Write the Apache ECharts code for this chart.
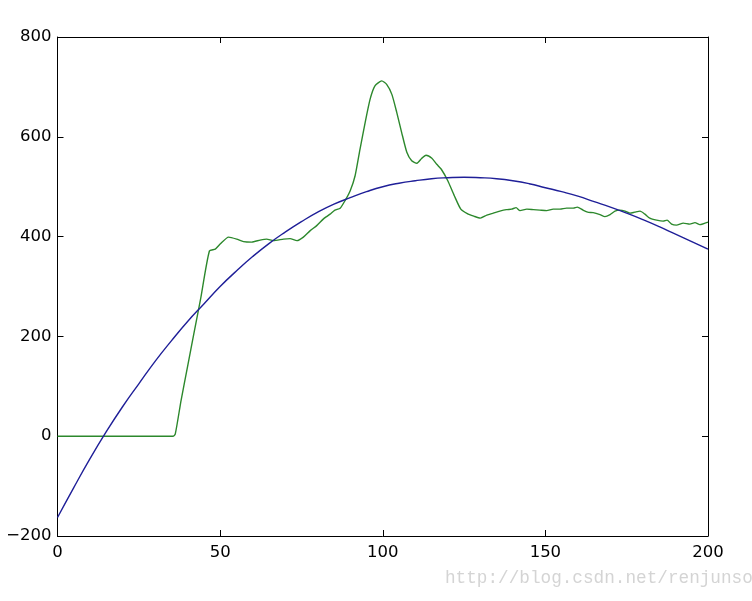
<!DOCTYPE html>
<html>
<head>
<meta charset="utf-8">
<script src="https://cdn.jsdelivr.net/npm/echarts@6/dist/echarts.min.js"></script>
<style>
html,body{margin:0;padding:0;background:#fff;}
#c{width:752px;height:601px;}
</style>
</head>
<body>
<div id="c"></div>
<script>
// Blue (fitted curve)
const blueX = [0,5,10,15,20,25,30,35,40,45,50,55,60,65,70,75,80,85,90,95,100,105,110,115,120,125,130,135,140,145,150,155,160,165,170,175,180,185,190,195,200];
const blueY = [-163,-103,-45,9,59,105,150,191,230,265,300,331,360,386,409,430,449,465,478,490,500,507,512,516,518,519,518,516,512,506,498,490,481,470,459,447,434,420,405,390,375];

const greenX = [0,10,20,30,35.5,36.2,38,40,42,44,46.7,48.5,50,52.6,55.1,57.2,59.7,62.3,64.3,66.4,69.5,71.5,73.6,75.6,77.7,79.7,81.7,82.7,83.8,85.3,86.9,88.4,90,91.5,93,94.6,96.1,97.6,99.7,101.2,102.8,104.3,105.8,107.4,108.9,110.5,112,113.3,115.1,116.6,118,120,122,124,126,128,130,132,134,136,138,139.6,141,142.2,144.3,146.3,148.3,150.4,152.4,154.5,156.5,158.6,159.8,161.6,163,164.7,166.8,168.3,169.9,171.4,172.9,174.5,176,177.5,179.1,180.6,182.1,184.2,186.2,187.4,188.8,190.3,192.4,194.4,196,197.5,200];
const greenY = [0,0,0,0,0,4,72,140,208,275,371,375,385,399,395,390,389,393,395,392,395,396,392,399,412,422,435,440,445,453,457,472,492,522,575,629,675,702,712,705,685,649,609,569,552,547,557,563,557,545,535,512,482,455,446,441,437,443,447,451,454,455,458,452,455,454,453,452,455,455,457,457,459,453,449,448,444,440,444,451,453,451,447,449,451,445,437,433,431,433,425,423,427,425,428,424,429];

const xTicks = {min:0, max:200, interval:50};
const yTicks = {min:-200, max:800, interval:200};

const pair = (xs, ys) => xs.map((x,i)=>[x, ys[i]]);
const FONT = 'DejaVu Sans';
const fmt = v => String(v).replace('-', '\u2212');

const chart = echarts.init(document.getElementById('c'), null, {renderer:'canvas'});
const axLine = {show:true, onZero:false, lineStyle:{color:'#000', width:1}};
const axTick = {show:true, inside:true, length:6, lineStyle:{color:'#000', width:1}};
chart.setOption({
  animation:false,
  backgroundColor:'#fff',
  grid:{left:57.5, top:37, right:44, bottom:65, containLabel:false},
  xAxis:[
    {type:'value', position:'bottom', min:xTicks.min, max:xTicks.max, interval:xTicks.interval,
     axisLine:axLine, axisTick:axTick, splitLine:{show:false},
     axisLabel:{color:'#000', fontFamily:FONT, fontSize:16.5, margin:8, formatter:fmt}},
    {type:'value', position:'top', min:xTicks.min, max:xTicks.max, interval:xTicks.interval,
     axisLine:axLine, axisTick:axTick, splitLine:{show:false}, axisLabel:{show:false}}
  ],
  yAxis:[
    {type:'value', position:'left', min:yTicks.min, max:yTicks.max, interval:yTicks.interval,
     axisLine:axLine, axisTick:axTick, splitLine:{show:false},
     axisLabel:{color:'#000', fontFamily:FONT, fontSize:16.5, margin:6, formatter:fmt}},
    {type:'value', position:'right', min:yTicks.min, max:yTicks.max, interval:yTicks.interval,
     axisLine:axLine, axisTick:axTick, splitLine:{show:false}, axisLabel:{show:false}}
  ],
  series:[
    {type:'line', data:pair(blueX, blueY), smooth:true, showSymbol:false, xAxisIndex:0, yAxisIndex:0,
     lineStyle:{color:'#1f1f98', width:1.4}, z:3},
    {type:'line', data:pair(greenX, greenY), smooth:0.2, showSymbol:false, xAxisIndex:0, yAxisIndex:0,
     lineStyle:{color:'#2c882c', width:1.4}, z:2}
  ],
  graphic:[
    {type:'text', left:445, top:569, style:{text:'http://blog.csdn.net/renjunsong', fill:'#d4d4d4',
      font:'17.7px "Liberation Mono", monospace'}}
  ]
});
</script>
</body>
</html>
